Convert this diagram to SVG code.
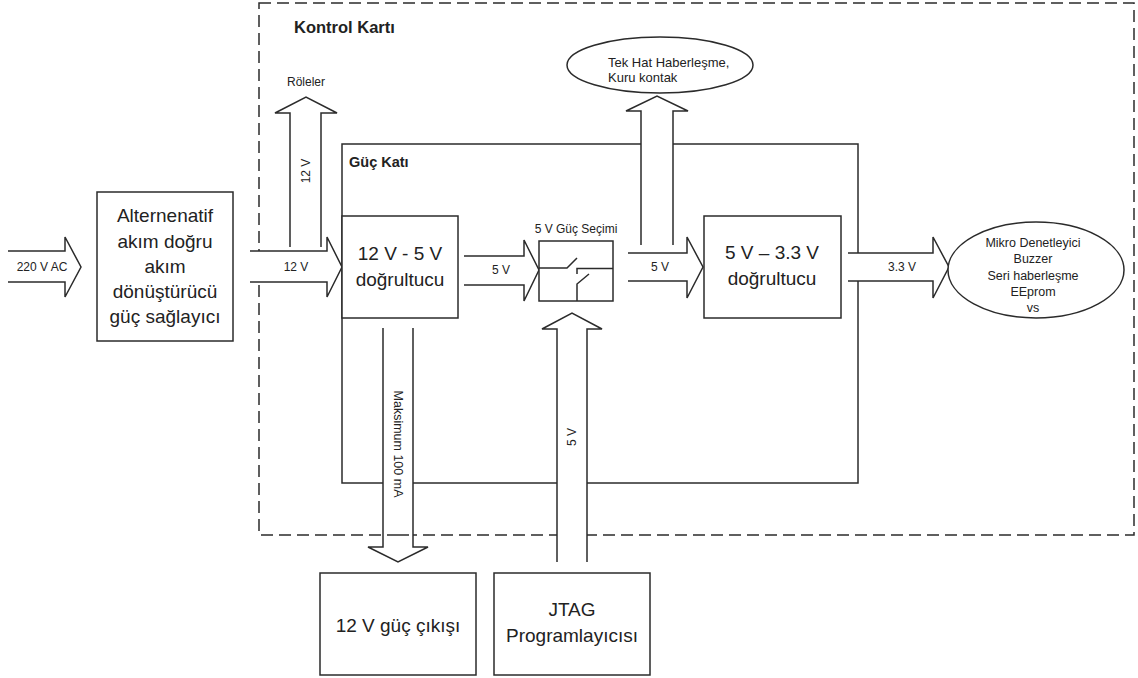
<svg xmlns="http://www.w3.org/2000/svg" width="1138" height="678" viewBox="0 0 1138 678">
<defs>
<style>
.box{fill:#fff;stroke:#2b2b2b;stroke-width:1.5}
.cont{fill:none;stroke:#2b2b2b;stroke-width:1.5}
.dash{fill:none;stroke:#2b2b2b;stroke-width:1.5;stroke-dasharray:12 6}
.arr{fill:#fff;stroke:#2b2b2b;stroke-width:1.5;stroke-linejoin:miter}
.ln{fill:none;stroke:#2b2b2b;stroke-width:1.5}
text{font-family:"Liberation Sans",Arial,sans-serif;fill:#222}
.big{font-size:19px;text-anchor:middle}
.sm{font-size:12px;text-anchor:middle}
.md{font-size:12.5px;text-anchor:middle}
.b{font-weight:bold}
</style>
</defs>
<rect width="1138" height="678" fill="#fff"/>

<g id="kontrol-karti">
<rect class="dash" x="259" y="3" width="875" height="532"/>
<text class="b" x="294" y="33" style="font-size:16.5px">Kontrol Kartı</text>
</g>

<g id="guc-kati">
<rect class="cont" x="342" y="144" width="516" height="339"/>
<text class="b" x="349" y="167" style="font-size:14.5px">Güç Katı</text>
</g>

<g id="connectors">
<path class="arr" d="M8,251 H65 V237 L81,267 L65,297 V282 H8"/>
<text class="sm" x="42" y="271">220 V AC</text>
<path class="arr" d="M250,251 H327 V237 L342,267 L327,297 V282 H250"/>
<text class="sm" x="296" y="271">12 V</text>
<path class="arr" d="M290,247 V113 H275 L306,97 L337,113 H321 V247"/>
<text class="sm" transform="translate(306,171) rotate(-90)" dominant-baseline="central">12 V</text>
<path class="arr" d="M641,245 V111 H626 L657,96 L688,111 H673 V245"/>
<path class="arr" d="M464,256 H524 V240 L539,270 L524,301 V285 H464"/>
<text class="sm" x="501" y="274">5 V</text>
<path class="arr" d="M628,253 H687 V237 L703,267 L687,298 V281 H628"/>
<text class="sm" x="660" y="271">5 V</text>
<path class="arr" d="M848,253 H933 V237 L949,267 L933,298 V281 H848"/>
<text class="sm" x="902" y="271">3.3 V</text>
<path class="arr" d="M383,328 V547 H368 L398,562 L428,547 H413 V328"/>
<text class="md" transform="translate(398,444) rotate(90)" dominant-baseline="central">Maksimum 100 mA</text>
<path class="arr" d="M557,562 V329 H542 L572,313 L602,329 H587 V562"/>
<text class="sm" transform="translate(572,437) rotate(-90)" dominant-baseline="central">5 V</text>
</g>

<g id="kontrol-karti-crossing">
<line class="ln" x1="387" y1="535" x2="409" y2="535"/>
</g>

<g id="ac-dc">
<rect class="box" x="97" y="192" width="136" height="149"/>
<text class="big" x="165" y="222">Alternenatif</text>
<text class="big" x="165" y="247.5">akım doğru</text>
<text class="big" x="165" y="273">akım</text>
<text class="big" x="165" y="298">dönüştürücü</text>
<text class="big" x="165" y="323">güç sağlayıcı</text>
</g>

<g id="reg-12-5">
<rect class="box" x="342" y="216" width="116" height="102"/>
<text class="big" x="400" y="260">12 V - 5 V</text>
<text class="big" x="400" y="286">doğrultucu</text>
</g>

<g id="guc-secimi">
<text class="sm" x="576" y="233">5 V Güç Seçimi</text>
<rect class="box" x="539" y="241" width="74" height="60"/>
<polyline class="ln" points="539,268 567,268 577,258"/>
<polyline class="ln" points="577,274 577,268.5 613,268.5"/>
<polyline class="ln" points="577,301 577,284 589,274"/>
</g>

<g id="reg-5-33">
<rect class="box" x="704" y="216" width="137" height="102"/>
<text class="big" x="772" y="259">5 V – 3.3 V</text>
<text class="big" x="772" y="285">doğrultucu</text>
</g>

<g id="tek-hat">
<ellipse class="box" cx="660" cy="65" rx="93" ry="28"/>
<text x="608" y="67" style="font-size:13px">Tek Hat Haberleşme,</text>
<text x="608" y="82" style="font-size:13px">Kuru kontak</text>
</g>

<g id="mikro">
<ellipse class="box" cx="1036" cy="270" rx="88" ry="48"/>
<text class="md" x="1033" y="247">Mikro Denetleyici</text>
<text class="md" x="1033" y="263">Buzzer</text>
<text class="md" x="1033" y="280">Seri haberleşme</text>
<text class="md" x="1033" y="296">EEprom</text>
<text class="md" x="1033" y="312">vs</text>
</g>

<g id="roleler">
<text class="sm" x="306" y="86">Röleler</text>
</g>

<g id="guc-cikisi">
<rect class="box" x="320" y="573" width="156" height="102"/>
<text class="big" x="398" y="632">12 V güç çıkışı</text>
</g>

<g id="jtag">
<rect class="box" x="494" y="573" width="156" height="102"/>
<text class="big" x="572" y="616">JTAG</text>
<text class="big" x="572" y="642">Programlayıcısı</text>
</g>
</svg>
